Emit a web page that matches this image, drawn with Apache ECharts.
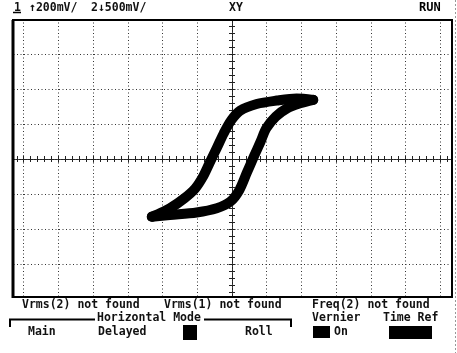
<!DOCTYPE html>
<html>
<head>
<meta charset="utf-8">
<script src="https://cdn.jsdelivr.net/npm/echarts@6/dist/echarts.min.js"></script>
<style>
html,body{margin:0;padding:0;background:#fff;}
#c{width:457px;height:353px;}
</style>
</head>
<body>
<div id="c"></div>
<script>
// Channel 1 (X) in mV, Channel 2 (Y) in mV
const xScale = { min: -1400, max: 1400, interval: 200 };   // 200 mV/div
const yScale = { min: -2000, max: 2000, interval: 500 };   // 500 mV/div

// Rising (lower/right) branch of the hysteresis loop
const risingX = [-462, -358, -204, -88, -10, 42, 84, 126, 164, 198, 252, 318, 392, 468];
const risingY = [-825, -800, -765, -705, -610, -445, -205, 35, 245, 440, 605, 725, 795, 845];
// Falling (upper/left) branch
const fallingX = [468, 372, 258, 142, 46, -4, -48, -88, -130, -168, -212, -274, -358, -424, -462];
const fallingY = [845, 865, 835, 785, 690, 555, 365, 155, -60, -255, -420, -560, -705, -785, -825];

const topLabels = ['1', '↑200mV/', '2↓500mV/', 'XY', 'RUN'];
const measLabels = ['Vrms(2) not found', 'Vrms(1) not found', 'Freq(2) not found'];
const menuTitles = ['Horizontal Mode', 'Vernier', 'Time Ref'];
const menuItems = ['Main', 'Delayed', 'Roll', 'On'];

const rising = risingX.map((x, i) => [x, risingY[i]]);
const falling = fallingX.map((x, i) => [x, fallingY[i]]);

const chart = echarts.init(document.getElementById('c'), null, { renderer: 'canvas' });

const FONT = '"DejaVu Sans Mono", monospace';
function txt(x, y, s, opt) {
  return {
    type: 'text', x: x, y: y, z: 70,
    style: Object.assign({ text: s, font: 'bold 11.5px ' + FONT, fill: '#111', textVerticalAlign: 'middle' }, opt || {})
  };
}

const dotted = { color: '#333', width: 1, type: [1, 2.5] };

function xAx(inside) {
  return {
    type: 'value', min: xScale.min, max: xScale.max, interval: xScale.interval,
    position: 'bottom',
    axisLine: { show: true, onZero: true, lineStyle: { color: '#222', width: 1, type: [2, 1] } },
    axisTick: { show: true, inside: inside, length: 3.5, lineStyle: { color: '#222', width: 1 } },
    minorTick: { show: true, splitNumber: 5, length: 3, lineStyle: { color: '#222', width: 1 } },
    axisLabel: { show: false },
    splitLine: { show: inside, lineStyle: dotted }
  };
}
function yAx(inside) {
  return {
    type: 'value', min: yScale.min, max: yScale.max, interval: yScale.interval,
    position: 'left',
    axisLine: { show: true, onZero: true, lineStyle: { color: '#222', width: 1, type: [2, 1] } },
    axisTick: { show: true, inside: inside, length: 3.5, lineStyle: { color: '#222', width: 1 } },
    minorTick: { show: true, splitNumber: 5, length: 3, lineStyle: { color: '#222', width: 1 } },
    axisLabel: { show: false },
    splitLine: { show: inside, lineStyle: dotted }
  };
}

const lineStyle = { color: '#000', width: 10, cap: 'round', join: 'round' };

chart.setOption({
  animation: false,
  backgroundColor: '#fff',
  grid: { left: -11, top: 19, width: 486, height: 280, outerBoundsMode: 'none', containLabel: false },
  xAxis: [xAx(true), xAx(false)],
  yAxis: [yAx(true), yAx(false)],
  series: [
    { type: 'line', data: rising, xAxisIndex: 0, yAxisIndex: 0, showSymbol: false, smooth: 0.3, lineStyle: lineStyle, z: 5 },
    { type: 'line', data: falling, xAxisIndex: 0, yAxisIndex: 0, showSymbol: false, smooth: 0.3, lineStyle: lineStyle, z: 5 }
  ],
  graphic: [
    // cover outside of plot frame
    { type: 'rect', z: 50, shape: { x: 0, y: 0, width: 13, height: 353 }, style: { fill: '#fff' } },
    { type: 'rect', z: 50, shape: { x: 452, y: 0, width: 5, height: 353 }, style: { fill: '#fff' } },
    { type: 'rect', z: 50, shape: { x: 0, y: 0, width: 457, height: 20 }, style: { fill: '#fff' } },
    { type: 'rect', z: 50, shape: { x: 0, y: 297, width: 457, height: 56 }, style: { fill: '#fff' } },
    // frame
    { type: 'rect', z: 60, shape: { x: 13, y: 20, width: 439, height: 277 }, style: { fill: null, stroke: '#000', lineWidth: 2 } },
    { type: 'line', z: 60, shape: { x1: 13, y1: 20, x2: 13, y2: 298 }, style: { stroke: '#000', lineWidth: 3 } },
    { type: 'line', z: 60, shape: { x1: 455.5, y1: 0, x2: 455.5, y2: 353 }, style: { stroke: '#999', lineWidth: 1, lineDash: [2, 2] } },
    // top labels
    txt(14, 8, topLabels[0]),
    { type: 'line', z: 70, shape: { x1: 13, y1: 12.5, x2: 21, y2: 12.5 }, style: { stroke: '#000', lineWidth: 1.5 } },
    txt(29, 8, topLabels[1]),
    txt(91, 8, topLabels[2]),
    txt(229, 8, topLabels[3]),
    txt(419, 8, topLabels[4], { font: 'bold 12px ' + FONT, fill: '#000' }),
    // measurement row
    txt(22, 305, measLabels[0]),
    txt(164, 305, measLabels[1]),
    txt(312, 305, measLabels[2]),
    // menu titles
    { type: 'polyline', z: 70, shape: { points: [[10, 327], [10, 319.5], [95, 319.5]] }, style: { stroke: '#000', lineWidth: 2, fill: null } },
    { type: 'polyline', z: 70, shape: { points: [[204, 319.5], [291, 319.5], [291, 327]] }, style: { stroke: '#000', lineWidth: 2, fill: null } },
    txt(97, 318, menuTitles[0]),
    txt(312, 318, menuTitles[1]),
    txt(383, 318, menuTitles[2]),
    // menu items
    txt(28, 332, menuItems[0]),
    txt(98, 332, menuItems[1]),
    { type: 'rect', z: 70, shape: { x: 183, y: 325, width: 14, height: 15 }, style: { fill: '#000' } },
    txt(245, 332, menuItems[2]),
    { type: 'rect', z: 70, shape: { x: 313, y: 326, width: 17, height: 12 }, style: { fill: '#000' } },
    txt(334, 332, menuItems[3]),
    { type: 'rect', z: 70, shape: { x: 389, y: 326, width: 43, height: 13 }, style: { fill: '#000' } }
  ]
});
</script>
</body>
</html>
